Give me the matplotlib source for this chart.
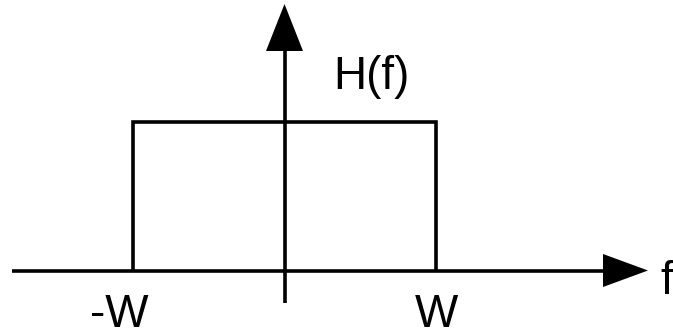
import matplotlib
matplotlib.use("Agg")
import matplotlib.pyplot as plt
from matplotlib.patches import Polygon

# Data: ideal low-pass filter H(f)
freq = [-1, -1, 1, 1]          # in units of W
H = [0, 1, 1, 0]
tick_pos = [-1, 1]
tick_labels = ["-W", "W"]
ylabel_text = "H(f)"
xlabel_text = "f"

fig = plt.figure(figsize=(6.73, 3.32), dpi=100)
ax = fig.add_axes([0, 0, 1, 1])
sx, sy = 151.5, 149.0  # px per unit
cx, cy = 284.5, 270.5
ax.set_xlim((0 - cx) / sx, (673 - cx) / sx)
ax.set_ylim(-(332 - cy) / sy, cy / sy)
ax.axis("off")

lw = 2.6
# rectangle
ax.plot(freq, H, color="black", lw=lw, solid_joinstyle="miter", solid_capstyle="butt")

# horizontal axis
x0, xb, xt = (12 - cx) / sx, (603 - cx) / sx, (648 - cx) / sx
ax.plot([x0, xb], [0, 0], color="black", lw=lw, solid_capstyle="butt")
hh = 16.5 / sy
ax.add_patch(Polygon([[xb, hh], [xt, 0], [xb, -hh]], closed=True, color="black", lw=0))

# vertical axis
y0, yb, yt = -(303 - cy) / sy, (cy - 51) / sy, (cy - 4) / sy
ax.plot([0, 0], [y0, yb], color="black", lw=lw, solid_capstyle="butt")
hw = 18.5 / sx
ax.add_patch(Polygon([[-hw, yb], [0, yt], [hw, yb]], closed=True, color="black", lw=0))

fs = 33
font = "Liberation Sans"
base = -(327 - cy) / sy
ax.text(-1.09, base, tick_labels[0], ha="center", va="baseline",
        fontsize=fs, family=font)
ax.text(tick_pos[1] * 1.0, base, tick_labels[1], ha="center", va="baseline",
        fontsize=fs, family=font)
ax.text((333 - cx) / sx, (cy - 89) / sy, ylabel_text, ha="left", va="baseline",
        fontsize=fs, family=font)
ax.text((660 - cx) / sx, (cy - 294) / sy, xlabel_text, ha="left", va="baseline",
        fontsize=fs, family=font)

fig.savefig("out.png", dpi=100, facecolor="white")
